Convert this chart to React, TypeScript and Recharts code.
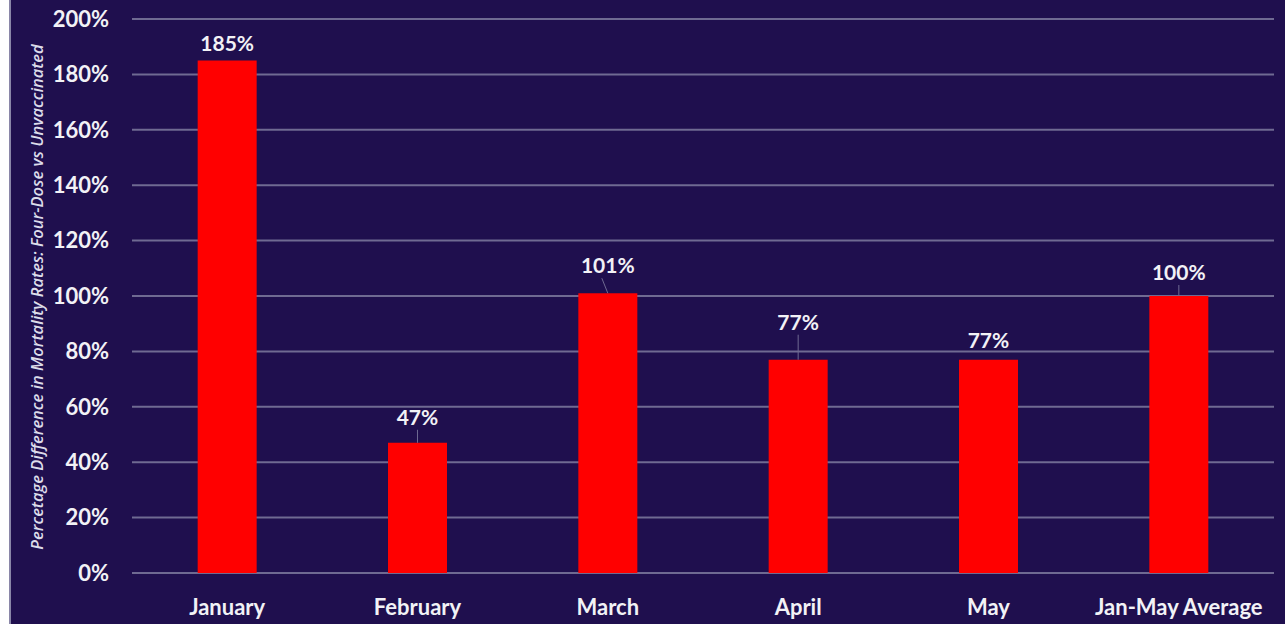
import React from "react";
import { BarChart, Bar, XAxis, YAxis, CartesianGrid, LabelList } from "recharts";

const categories = ["January", "February", "March", "April", "May", "Jan-May Average"];
const values = [185, 47, 101, 77, 77, 100];
const yTicks = [0, 20, 40, 60, 80, 100, 120, 140, 160, 180, 200];
const yTitle = "Percetage Difference in Mortality Rates: Four-Dose vs Unvaccinated";

// label lift above bar top (styling, px)
const labelLift = [10, 18, 20, 30, 12, 16];
const labelTilt = [0, 0, -6, 0, 0, 0];

const data = categories.map((c, i) => ({ name: c, value: values[i], idx: i }));

const BG = "#1f0f4e";
const GRID = "#6f6a92";
const TXT = "#f2f2f6";
const FONT = "Lato, 'Open Sans', sans-serif";

const ValueLabel = (props: any) => {
  const { x, y, width, value, index } = props;
  const cx = x + width / 2;
  const lift = labelLift[index] ?? 12;
  const tilt = labelTilt[index] ?? 0;
  const textY = y - lift;
  return (
    <g>
      {lift > 12 && (
        <line x1={cx + tilt} y1={textY + 5} x2={cx} y2={y} stroke={GRID} strokeWidth={1} />
      )}
      <text x={cx} y={textY} textAnchor="middle" fill={TXT} fontFamily={FONT} fontWeight={700} fontSize={21}>
        {value}%
      </text>
    </g>
  );
};

const YTitle = () => {
  return (
    <text
      x={0}
      y={0}
      transform={`translate(32, 297) rotate(-90)`}
      textAnchor="middle"
      fill="#dcdcea"
      fontFamily="'Open Sans', sans-serif"
      fontStyle="italic"
      fontWeight={600}
      fontSize={16.5}
    >
      {yTitle}
    </text>
  );
};

export default function App() {
  return (
    <div style={{ position: "absolute", left: 0, top: 0, width: 1285, height: 624, background: "#ffffff" }}>
      <div
        style={{
          position: "absolute",
          left: 9,
          top: 0,
          width: 1276,
          height: 624,
          background: BG,
          borderLeft: "2px solid #8a86a8",
          boxSizing: "border-box",
        }}
      >
        <BarChart
          width={1274}
          height={624}
          data={data}
          margin={{ top: 19, right: 11, bottom: 21, left: 0 }}
          barCategoryGap="34.5%"
        >
          <CartesianGrid vertical={false} stroke={GRID} strokeWidth={2} />
          <XAxis
            dataKey="name"
            height={30}
            axisLine={false}
            tickLine={false}
            tickMargin={20}
            tick={{ fill: TXT, fontFamily: FONT, fontWeight: 700, fontSize: 22 }}
          />
          <YAxis
            width={121}
            domain={[0, 200]}
            ticks={yTicks}
            interval={0}
            axisLine={false}
            tickLine={false}
            tickSize={0}
            tickMargin={23}
            tickFormatter={(v: number) => `${v}%`}
            tick={{ fill: TXT, fontFamily: FONT, fontWeight: 700, fontSize: 22 }}
            label={{ content: <YTitle /> }}
          />
          <Bar dataKey="value" fill="#ff0000" isAnimationActive={false}>
            <LabelList dataKey="value" content={<ValueLabel />} />
          </Bar>
        </BarChart>
      </div>
    </div>
  );
}
